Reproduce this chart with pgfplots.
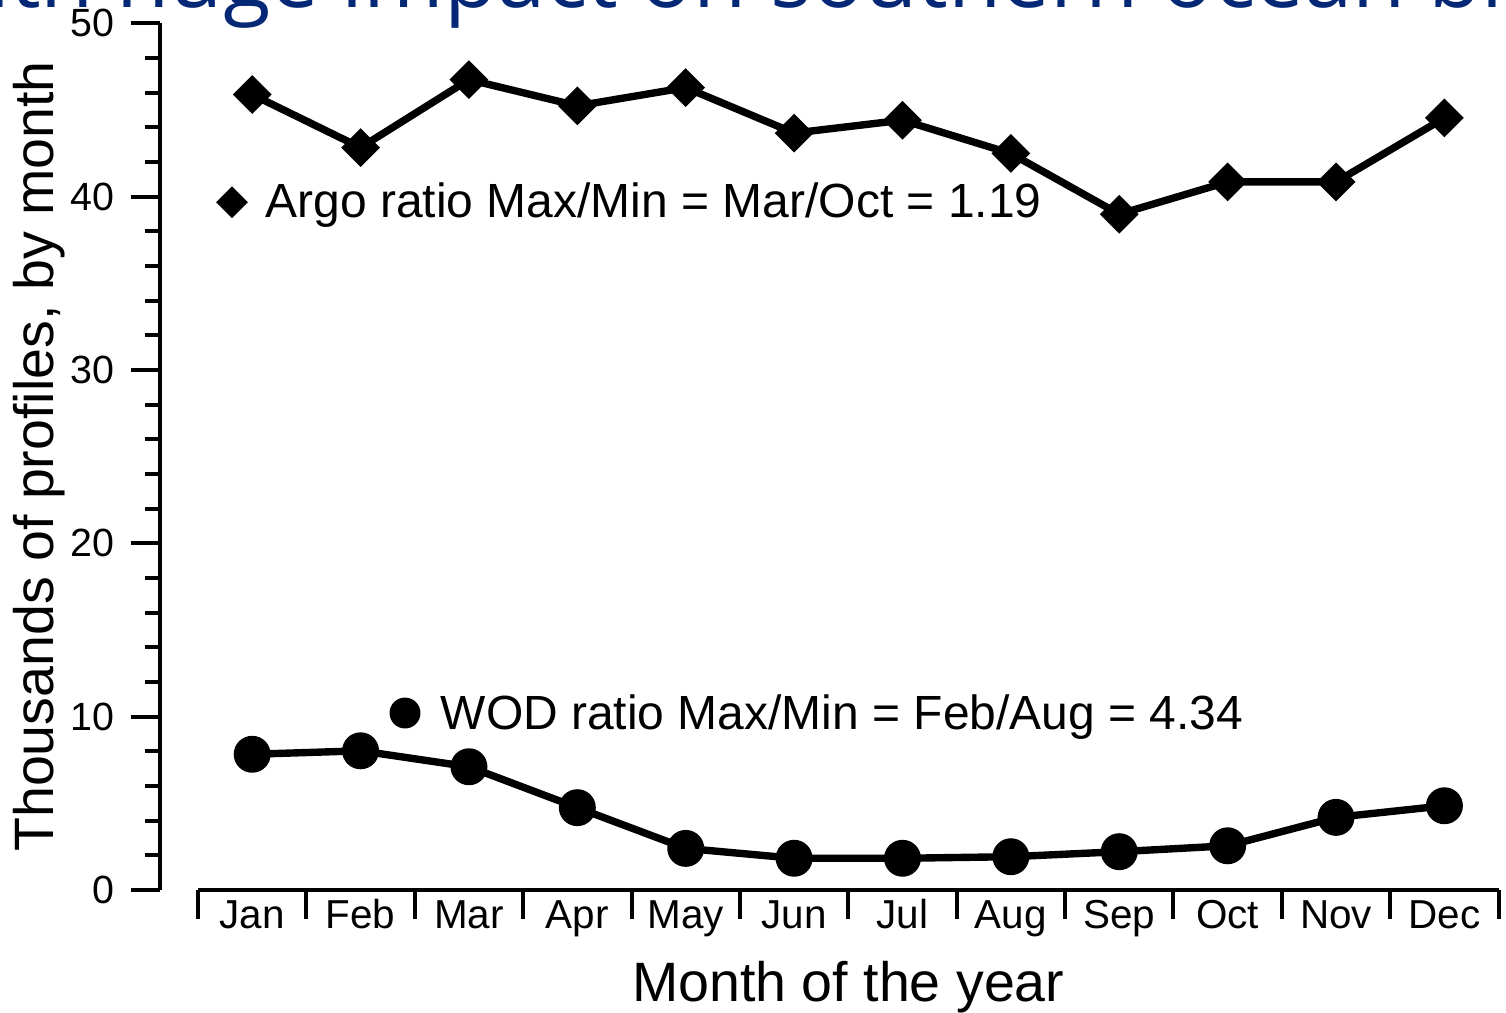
\documentclass[border=0pt]{standalone}
\usepackage{pgfplots}
\pgfplotsset{compat=1.18}
\usepackage{fontspec}
\setmainfont{Liberation Sans}
\newfontfamily\titlefont{Open Sans}
\definecolor{titleblue}{RGB}{4,40,117}

\pgfplotstableread{
m  v
1  45.89
2  42.83
3  46.75
4  45.24
5  46.29
6  43.67
7  44.41
8  42.49
9  38.99
10 40.85
11 40.85
12 44.54
}\argo

\pgfplotstableread{
m  v
1  7.83
2  8.03
3  7.11
4  4.75
5  2.40
6  1.83
7  1.83
8  1.92
9  2.21
10 2.55
11 4.19
12 4.86
}\wod

\begin{document}
\begin{tikzpicture}
\begin{axis}[
  at={(0,0)}, anchor=south west,
  scale only axis, width=13.386cm, height=8.667cm,
  xmin=0.1494, xmax=12.5, ymin=0, ymax=50,
  axis x line*=bottom, axis y line*=left,
  x axis line style={draw=none},
  y axis line style={line width=1.15pt, -},
  tick align=outside,
  major tick length=0.29cm, minor tick length=0.15cm,
  every tick/.style={black, line width=1.15pt},
  ytick={0,10,...,50}, minor y tick num=4,
  xtick={0.5,1.5,...,12.5}, xticklabels={},
  extra x ticks={1,2,...,12},
  extra x tick labels={Jan,Feb,Mar,Apr,May,Jun,Jul,Aug,Sep,Oct,Nov,Dec},
  extra x tick style={tick style={draw=none}},
  /pgf/number format/assume math mode=true,
  yticklabel style={font=\fontsize{11.2}{13}\selectfont, inner sep=0pt, xshift=-0.16cm},
  xticklabel style={font=\fontsize{11.5}{13}\selectfont, inner sep=0pt, anchor=base, yshift=-0.10cm},
  xlabel={Month of the year},
  ylabel={Thousands of profiles, by month},
  xlabel style={font=\fontsize{15.8}{18}\selectfont, at={(axis cs:6.5,0)}, anchor=base, inner sep=0pt, yshift=-1.12cm},
  ylabel style={font=\fontsize{15.8}{18}\selectfont, at={(rel axis cs:-0.0799,0.5)}, anchor=base, inner sep=0pt},
  clip=false,
]
\draw[line width=1.15pt] (axis cs:0.5,0) -- (axis cs:12.5,0);
\addplot[black, line width=2.1pt, mark=square*, mark size=2.85pt,
  mark options={rotate=45, draw=none, fill=black}] table[x=m, y=v] {\argo};
\addplot[black, line width=2.1pt, mark=*, mark size=4.2pt,
  mark options={draw=none, fill=black}] table[x=m, y=v] {\wod};
\addplot[only marks, mark=square*, mark size=3.0pt,
  mark options={rotate=45, draw=none, fill=black}] coordinates {(0.814,39.68)};
\addplot[only marks, mark=*, mark size=4.2pt,
  mark options={draw=none, fill=black}] coordinates {(2.41,10.21)};
\node[anchor=base west, inner sep=0pt, font=\fontsize{13.65}{16}\selectfont] at (axis cs:1.118,38.81) {Argo ratio Max/Min = Mar/Oct = 1.19};
\node[anchor=base west, inner sep=0pt, font=\fontsize{13.65}{16}\selectfont] at (axis cs:2.733,9.28) {WOD ratio Max/Min = Feb/Aug = 4.34};
\end{axis}
\node[anchor=base east, inner sep=0pt, text=titleblue, font=\titlefont\fontsize{24.7}{28}\selectfont] at (5.87,8.82) {with huge impact on};
\node[anchor=base west, inner sep=0pt, text=titleblue, font=\titlefont\fontsize{24.7}{28}\selectfont] at (6.10,8.82) {southern ocean bi};
\pgfresetboundingbox
\path[use as bounding box] (-1.60,-1.23) rectangle (13.46,8.90);
\end{tikzpicture}
\end{document}
